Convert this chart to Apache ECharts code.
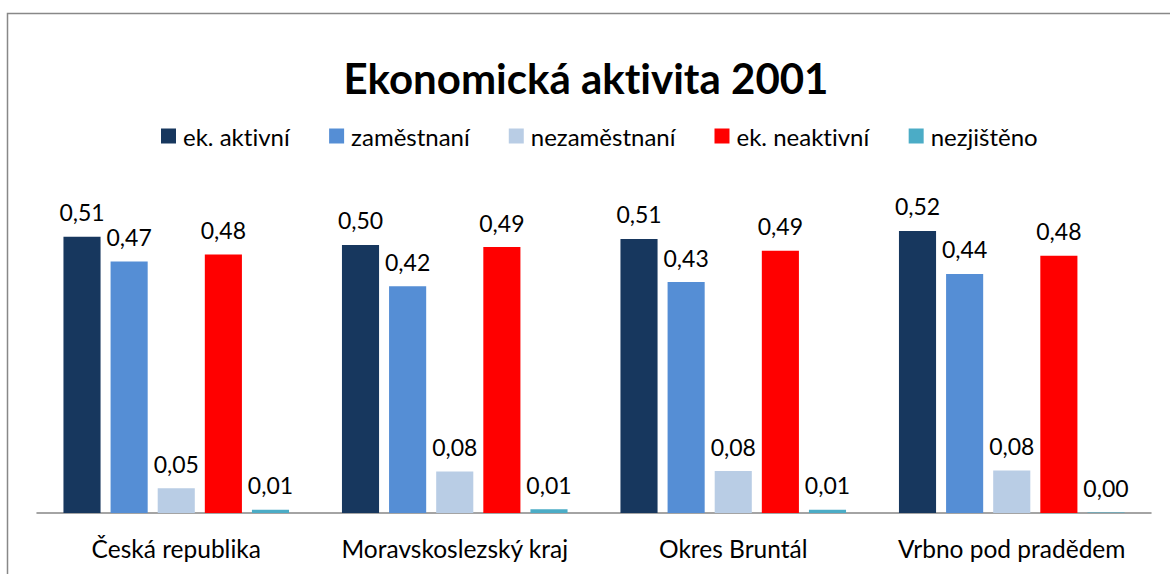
<!DOCTYPE html>
<html>
<head>
<meta charset="utf-8">
<script src="https://cdn.jsdelivr.net/npm/echarts@6/dist/echarts.min.js"></script>
<style>
html,body{margin:0;padding:0;background:#fff;}
#chart{width:1170px;height:574px;font-variant-ligatures:none;}
#chart text{font-variant-ligatures:none;}
</style>
</head>
<body>
<div id="chart"></div>
<script>
const categories = ['Česká republika', 'Moravskoslezský kraj', 'Okres Bruntál', 'Vrbno pod pradědem'];
const seriesNames = ['ek. aktivní', 'zaměstnaní', 'nezaměstnaní', 'ek. neaktivní', 'nezjištěno'];
const ekAktivni = [0.513, 0.498, 0.509, 0.524];
const zamestnani = [0.467, 0.421, 0.429, 0.444];
const nezamestnani = [0.046, 0.077, 0.078, 0.079];
const ekNeaktivni = [0.480, 0.494, 0.487, 0.478];
const nezjisteno = [0.006, 0.007, 0.006, 0.001];
const colors = ['#17375E', '#558ED5', '#B9CDE5', '#FF0000', '#4BACC6'];

const FONT = 'Lato';
const values = [ekAktivni, zamestnani, nezamestnani, ekNeaktivni, nezjisteno];

const chart = echarts.init(document.getElementById('chart'), null, {renderer: 'svg'});
chart.setOption({
  animation: false,
  backgroundColor: '#fff',
  color: colors,
  title: {
    text: 'Ekonomická aktivita 2001',
    left: 581,
    textAlign: 'center',
    top: 52,
    textStyle: {fontFamily: FONT, fontWeight: 'bold', fontSize: 42, color: '#000'}
  },
  legend: {
    data: seriesNames,
    top: 119,
    left: 156,
    icon: 'rect',
    itemWidth: 15,
    itemHeight: 15,
    itemGap: 39,
    textStyle: {fontFamily: FONT, fontSize: 24, color: '#000', padding: [0, 0, 0, 2]}
  },
  grid: {left: 37, right: 19, top: 190, bottom: 61},
  xAxis: {
    type: 'category',
    data: categories,
    axisLine: {lineStyle: {color: '#868686', width: 1.5}},
    axisTick: {show: false},
    axisLabel: {fontFamily: FONT, fontSize: 24.5, color: '#000', margin: 23, interval: 0}
  },
  yAxis: {
    type: 'value',
    min: 0,
    max: 0.6,
    show: false,
    splitLine: {show: false}
  },
  graphic: [{
    type: 'rect',
    shape: {x: 7.5, y: 13.5, width: 1200, height: 700},
    style: {fill: 'none', stroke: '#888', lineWidth: 1.5},
    silent: true
  }],
  series: seriesNames.map((name, i) => ({
    name: name,
    type: 'bar',
    data: values[i],
    barGap: '27%',
    barCategoryGap: '19%',
    label: {
      show: true,
      position: 'top',
      distance: 13,
      fontFamily: FONT,
      fontSize: 23,
      color: '#000',
      formatter: p => p.value.toFixed(2).replace('.', ',')
    }
  }))
});
</script>
</body>
</html>
